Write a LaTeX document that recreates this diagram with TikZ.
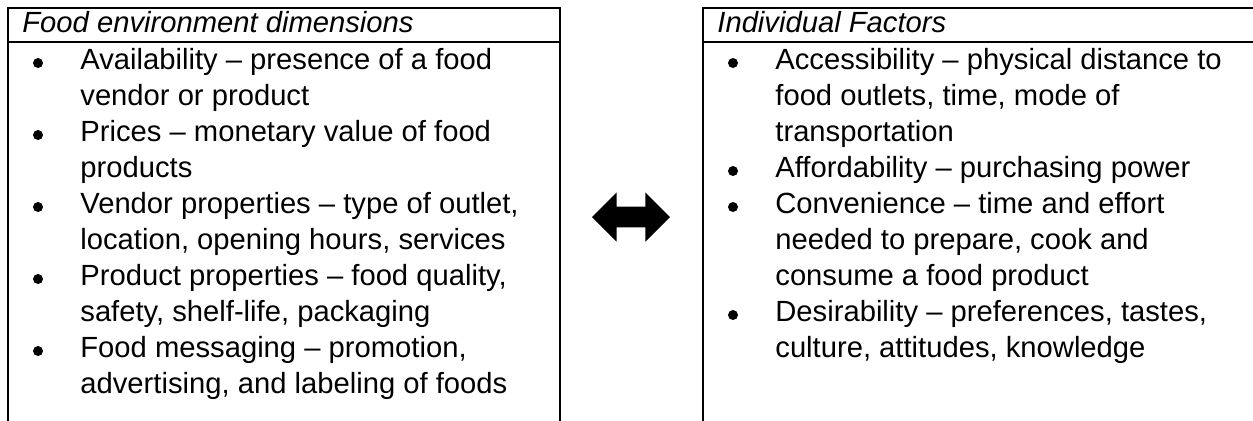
\documentclass[tikz,border=0pt]{standalone}
\usepackage{fontspec}
\setmainfont{Liberation Sans}
\usetikzlibrary{shapes.arrows, positioning}

\tikzset{
  panel/.style={rectangle, draw=black, line width=1pt, inner sep=0pt,
                minimum width=#1, minimum height=210pt},
  panel/.default=276pt,
  rule/.style={line width=1pt},
  head/.style={inner sep=0pt, font=\fontsize{14.6pt}{18pt}\selectfont\itshape},
  item/.style={inner sep=0pt, font=\fontsize{14.6pt}{18pt}\selectfont},
  dot/.style={circle, fill=black, inner sep=0pt, minimum size=5pt},
  link/.style={double arrow, fill=black, inner sep=0pt, inner ysep=5pt,
               minimum height=39pt, minimum width=21pt},
}

\begin{document}
\begin{tikzpicture}[x=0.5pt, y=-0.5pt]
  \useasboundingbox (0,0) rectangle (1253,420);

  % --- left panel: food environment ---
  \node[panel, anchor=north west] (food) at (7,7) {};
  \draw[rule] ([yshift=-17.5pt]food.north west) -- ([yshift=-17.5pt]food.north east);
  \node[head, anchor=base west] (food-head) at (22,32) {Food environment dimensions};
  \foreach \txt [count=\i from 0] in {%
      {Availability – presence of a food},
      {vendor or product},
      {Prices – monetary value of food},
      {products},
      {Vendor properties – type of outlet,},
      {location, opening hours, services},
      {Product properties – food quality,},
      {safety, shelf-life, packaging},
      {Food messaging – promotion,},
      {advertising, and labeling of foods}}
    \node[item, anchor=base west] (food-\i) at (80,{69+36*\i}) {\txt};
  \foreach \i in {0,2,4,6,8}
    \node[dot] (food-dot-\i) at (38,{63+36*\i}) {};

  % --- right panel: individual factors ---
  \node[panel, anchor=north west] (indiv) at (702,7) {};
  \draw[rule] ([yshift=-17.5pt]indiv.north west) -- ([yshift=-17.5pt]indiv.north east);
  \node[head, anchor=base west] (indiv-head) at (717,32) {Individual Factors};
  \foreach \txt [count=\i from 0] in {%
      {Accessibility – physical distance to},
      {food outlets, time, mode of},
      {transportation},
      {Affordability – purchasing power},
      {Convenience – time and effort},
      {needed to prepare, cook and},
      {consume a food product},
      {Desirability – preferences, tastes,},
      {culture, attitudes, knowledge}}
    \node[item, anchor=base west] (indiv-\i) at (775,{69+36*\i}) {\txt};
  \foreach \i in {0,3,4,7}
    \node[dot] (indiv-dot-\i) at (733,{63+36*\i}) {};

  % two-way link between the panels
  \node[link] (both) at (631,217) {};
\end{tikzpicture}
\end{document}
